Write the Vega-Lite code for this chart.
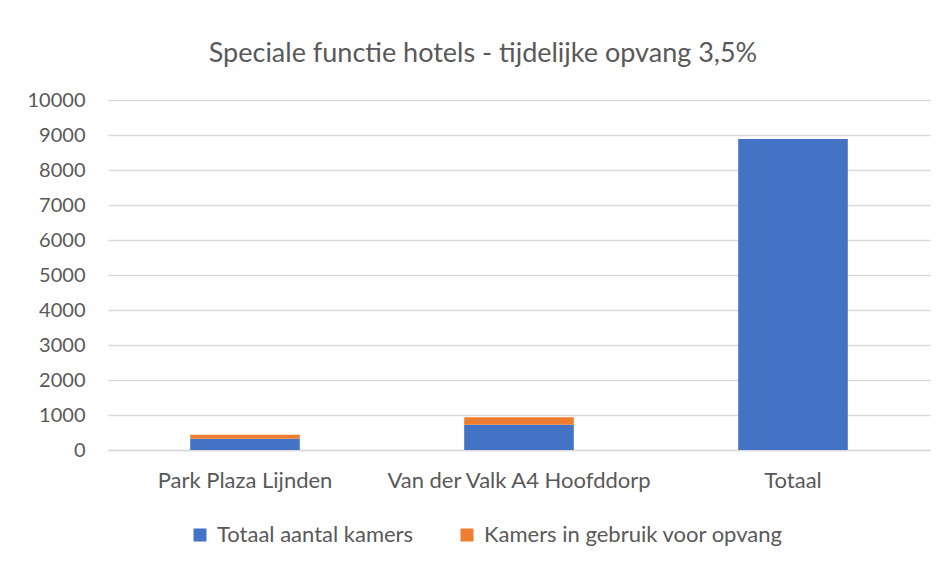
{
  "$schema": "https://vega.github.io/schema/vega-lite/v6.json",
  "width": 822,
  "height": 350,
  "autosize": {"type": "none"},
  "padding": {"left": 108, "top": 100, "right": 16, "bottom": 118},
  "background": "white",
  "title": {"text": "Speciale functie hotels - tijdelijke opvang 3,5%", "font": "Lato", "fontSize": 27, "fontWeight": "normal", "color": "#595959", "offset": 22, "dx": -36},
  "data": {"values": [
    {"hotel": "Park Plaza Lijnden", "serie": "Totaal aantal kamers", "ord": 1, "kamers": 323},
    {"hotel": "Park Plaza Lijnden", "serie": "Kamers in gebruik voor opvang", "ord": 2, "kamers": 114},
    {"hotel": "Van der Valk A4 Hoofddorp", "serie": "Totaal aantal kamers", "ord": 1, "kamers": 723},
    {"hotel": "Van der Valk A4 Hoofddorp", "serie": "Kamers in gebruik voor opvang", "ord": 2, "kamers": 211},
    {"hotel": "Totaal", "serie": "Totaal aantal kamers", "ord": 1, "kamers": 8886}
  ]},
  "mark": {"type": "bar"},
  "encoding": {
    "x": {"field": "hotel", "type": "nominal", "sort": null, "title": null,
      "scale": {"paddingInner": 0.6, "paddingOuter": 0.3},
      "axis": {"labelAngle": 0, "labelFont": "Lato", "labelFontSize": 22, "labelColor": "#595959", "labelLimit": 0, "ticks": false, "domainColor": "#d9d9d9", "domainWidth": 1.5, "labelPadding": 20}},
    "y": {"field": "kamers", "type": "quantitative", "stack": "zero", "title": null,
      "scale": {"domain": [0, 10000]},
      "axis": {"values": [0,1000,2000,3000,4000,5000,6000,7000,8000,9000,10000], "format": "d", "labelFont": "Lato", "labelFontSize": 20, "labelColor": "#595959", "ticks": false, "domain": false, "gridColor": "#d9d9d9", "gridWidth": 1.5, "labelPadding": 23}},
    "color": {"field": "serie", "type": "nominal", "sort": ["Totaal aantal kamers", "Kamers in gebruik voor opvang"],
      "scale": {"domain": ["Totaal aantal kamers", "Kamers in gebruik voor opvang"], "range": ["#4472C4", "#ED7D31"]},
      "legend": {"title": null, "orient": "none", "direction": "horizontal", "legendX": 81, "legendY": 424, "symbolType": "square", "symbolSize": 169, "symbolStrokeWidth": 0, "symbolOpacity": 1, "labelFont": "Lato", "labelFontSize": 22, "labelLimit": 0, "labelColor": "#595959", "columnPadding": 42, "labelOffset": 6}},
    "order": {"field": "ord", "type": "quantitative"}
  },
  "config": {"view": {"stroke": null}}
}
